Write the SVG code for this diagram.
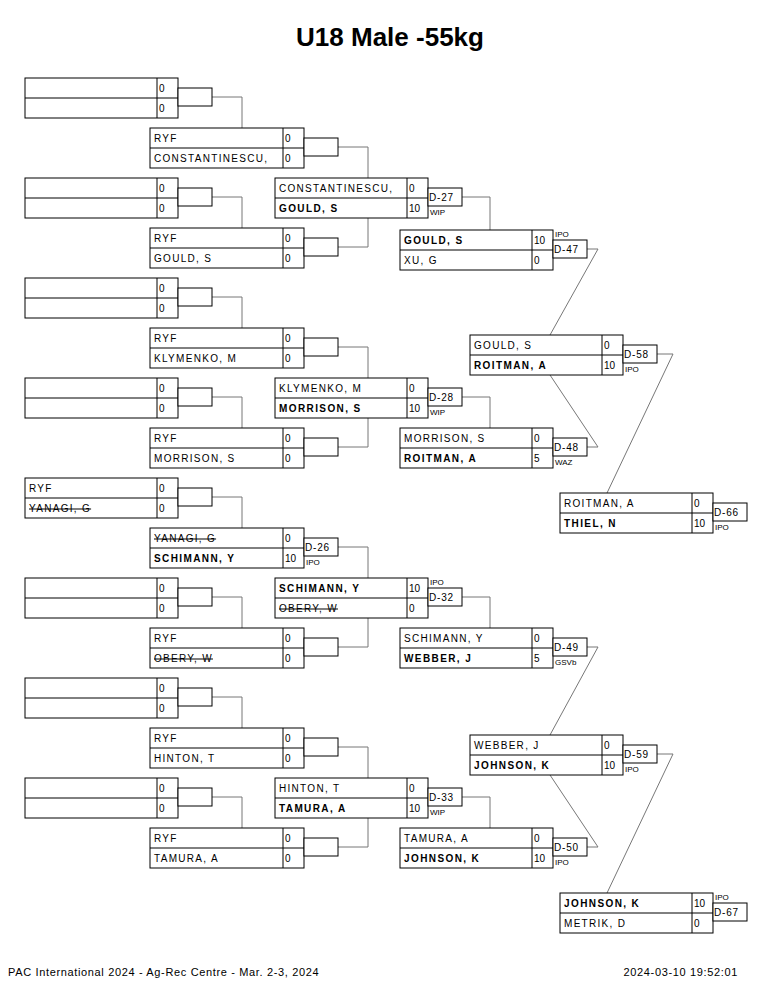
<svg xmlns="http://www.w3.org/2000/svg" width="765" height="990" viewBox="0 0 765 990">
<style>
.bx{fill:#fff;stroke:#000;stroke-width:1}
.ln{fill:none;stroke:#000;stroke-width:1}
.sb{fill:#fff;stroke:#000;stroke-width:1}
.cn{fill:none;stroke:#777;stroke-width:1}
.nm{font-family:"Liberation Sans",Arial,sans-serif;font-size:10px;letter-spacing:1.3px;fill:#000}
.nb{font-family:"Liberation Sans",Arial,sans-serif;font-size:10px;letter-spacing:1.4px;font-weight:bold;fill:#000}
.st{text-decoration:line-through}
.sc{font-family:"Liberation Sans",Arial,sans-serif;font-size:10px;fill:#000}
.mn{font-family:"Liberation Sans",Arial,sans-serif;font-size:10px;letter-spacing:0.8px;fill:#000}
.lb{font-family:"Liberation Sans",Arial,sans-serif;font-size:8px;fill:#000}
.tt{font-family:"Liberation Sans",Arial,sans-serif;font-size:26px;font-weight:bold;fill:#000}
.ft{font-family:"Liberation Sans",Arial,sans-serif;font-size:11px;letter-spacing:0.65px;fill:#000}
</style>
<rect width="765" height="990" fill="#fff"/>
<text class="tt" x="390" y="46" text-anchor="middle">U18 Male -55kg</text>

<g id="connectors">
<polyline class="cn" points="212,97 242,97 242,128"/>
<polyline class="cn" points="212,197 242,197 242,228"/>
<polyline class="cn" points="212,297 242,297 242,328"/>
<polyline class="cn" points="212,397 242,397 242,428"/>
<polyline class="cn" points="212,497 242,497 242,528"/>
<polyline class="cn" points="212,597 242,597 242,628"/>
<polyline class="cn" points="212,697 242,697 242,728"/>
<polyline class="cn" points="212,797 242,797 242,828"/>
<polyline class="cn" points="338,147 368,147 368,178"/>
<polyline class="cn" points="338,247 368,247 368,218"/>
<polyline class="cn" points="338,347 368,347 368,378"/>
<polyline class="cn" points="338,447 368,447 368,418"/>
<polyline class="cn" points="338,547 368,547 368,578"/>
<polyline class="cn" points="338,647 368,647 368,618"/>
<polyline class="cn" points="338,747 368,747 368,778"/>
<polyline class="cn" points="338,847 368,847 368,818"/>
<polyline class="cn" points="462,197 490,197 490,230"/>
<polyline class="cn" points="462,397 490,397 490,428"/>
<polyline class="cn" points="462,597 490,597 490,628"/>
<polyline class="cn" points="462,797 490,797 490,828"/>
<polyline class="cn" points="587,249 598,249 550,335"/>
<polyline class="cn" points="587,447 598,447 550,375"/>
<polyline class="cn" points="587,647 598,647 550,735"/>
<polyline class="cn" points="587,847 598,847 550,775"/>
<polyline class="cn" points="657,354 673,354 607,493"/>
<polyline class="cn" points="657,754 673,754 607,893"/>
</g>

<!-- Column 1 -->
<g id="r1m1"><rect class="bx" x="25" y="78" width="153" height="40"/><line class="ln" x1="25" y1="98" x2="178" y2="98"/><line class="ln" x1="157" y1="78" x2="157" y2="118"/><text class="sc" x="159" y="92">0</text><text class="sc" x="159" y="112">0</text><rect class="sb" x="178" y="88" width="34" height="18"/></g>
<g id="r1m2"><rect class="bx" x="25" y="178" width="153" height="40"/><line class="ln" x1="25" y1="198" x2="178" y2="198"/><line class="ln" x1="157" y1="178" x2="157" y2="218"/><text class="sc" x="159" y="192">0</text><text class="sc" x="159" y="212">0</text><rect class="sb" x="178" y="188" width="34" height="18"/></g>
<g id="r1m3"><rect class="bx" x="25" y="278" width="153" height="40"/><line class="ln" x1="25" y1="298" x2="178" y2="298"/><line class="ln" x1="157" y1="278" x2="157" y2="318"/><text class="sc" x="159" y="292">0</text><text class="sc" x="159" y="312">0</text><rect class="sb" x="178" y="288" width="34" height="18"/></g>
<g id="r1m4"><rect class="bx" x="25" y="378" width="153" height="40"/><line class="ln" x1="25" y1="398" x2="178" y2="398"/><line class="ln" x1="157" y1="378" x2="157" y2="418"/><text class="sc" x="159" y="392">0</text><text class="sc" x="159" y="412">0</text><rect class="sb" x="178" y="388" width="34" height="18"/></g>
<g id="r1m5"><rect class="bx" x="25" y="478" width="153" height="40"/><line class="ln" x1="25" y1="498" x2="178" y2="498"/><line class="ln" x1="157" y1="478" x2="157" y2="518"/><text class="nm" x="29" y="492">RYF</text><text class="nm st" x="29" y="512">YANAGI, G</text><text class="sc" x="159" y="492">0</text><text class="sc" x="159" y="512">0</text><rect class="sb" x="178" y="488" width="34" height="18"/></g>
<g id="r1m6"><rect class="bx" x="25" y="578" width="153" height="40"/><line class="ln" x1="25" y1="598" x2="178" y2="598"/><line class="ln" x1="157" y1="578" x2="157" y2="618"/><text class="sc" x="159" y="592">0</text><text class="sc" x="159" y="612">0</text><rect class="sb" x="178" y="588" width="34" height="18"/></g>
<g id="r1m7"><rect class="bx" x="25" y="678" width="153" height="40"/><line class="ln" x1="25" y1="698" x2="178" y2="698"/><line class="ln" x1="157" y1="678" x2="157" y2="718"/><text class="sc" x="159" y="692">0</text><text class="sc" x="159" y="712">0</text><rect class="sb" x="178" y="688" width="34" height="18"/></g>
<g id="r1m8"><rect class="bx" x="25" y="778" width="153" height="40"/><line class="ln" x1="25" y1="798" x2="178" y2="798"/><line class="ln" x1="157" y1="778" x2="157" y2="818"/><text class="sc" x="159" y="792">0</text><text class="sc" x="159" y="812">0</text><rect class="sb" x="178" y="788" width="34" height="18"/></g>

<!-- Column 2 -->
<g id="r2m1"><rect class="bx" x="150" y="128" width="154" height="40"/><line class="ln" x1="150" y1="148" x2="304" y2="148"/><line class="ln" x1="283" y1="128" x2="283" y2="168"/><text class="nm" x="154" y="142">RYF</text><text class="nm" x="154" y="162">CONSTANTINESCU,</text><text class="sc" x="285" y="142">0</text><text class="sc" x="285" y="162">0</text><rect class="sb" x="304" y="138" width="34" height="18"/></g>
<g id="r2m2"><rect class="bx" x="150" y="228" width="154" height="40"/><line class="ln" x1="150" y1="248" x2="304" y2="248"/><line class="ln" x1="283" y1="228" x2="283" y2="268"/><text class="nm" x="154" y="242">RYF</text><text class="nm" x="154" y="262">GOULD, S</text><text class="sc" x="285" y="242">0</text><text class="sc" x="285" y="262">0</text><rect class="sb" x="304" y="238" width="34" height="18"/></g>
<g id="r2m3"><rect class="bx" x="150" y="328" width="154" height="40"/><line class="ln" x1="150" y1="348" x2="304" y2="348"/><line class="ln" x1="283" y1="328" x2="283" y2="368"/><text class="nm" x="154" y="342">RYF</text><text class="nm" x="154" y="362">KLYMENKO, M</text><text class="sc" x="285" y="342">0</text><text class="sc" x="285" y="362">0</text><rect class="sb" x="304" y="338" width="34" height="18"/></g>
<g id="r2m4"><rect class="bx" x="150" y="428" width="154" height="40"/><line class="ln" x1="150" y1="448" x2="304" y2="448"/><line class="ln" x1="283" y1="428" x2="283" y2="468"/><text class="nm" x="154" y="442">RYF</text><text class="nm" x="154" y="462">MORRISON, S</text><text class="sc" x="285" y="442">0</text><text class="sc" x="285" y="462">0</text><rect class="sb" x="304" y="438" width="34" height="18"/></g>
<g id="r2m5"><rect class="bx" x="150" y="528" width="154" height="40"/><line class="ln" x1="150" y1="548" x2="304" y2="548"/><line class="ln" x1="283" y1="528" x2="283" y2="568"/><text class="nm st" x="154" y="542">YANAGI, G</text><text class="nb" x="154" y="562">SCHIMANN, Y</text><text class="sc" x="285" y="542">0</text><text class="sc" x="285" y="562">10</text><rect class="sb" x="304" y="538" width="34" height="18"/><text class="mn" x="305" y="551">D-26</text><text class="lb" x="306" y="565">IPO</text></g>
<g id="r2m6"><rect class="bx" x="150" y="628" width="154" height="40"/><line class="ln" x1="150" y1="648" x2="304" y2="648"/><line class="ln" x1="283" y1="628" x2="283" y2="668"/><text class="nm" x="154" y="642">RYF</text><text class="nm st" x="154" y="662">OBERY, W</text><text class="sc" x="285" y="642">0</text><text class="sc" x="285" y="662">0</text><rect class="sb" x="304" y="638" width="34" height="18"/></g>
<g id="r2m7"><rect class="bx" x="150" y="728" width="154" height="40"/><line class="ln" x1="150" y1="748" x2="304" y2="748"/><line class="ln" x1="283" y1="728" x2="283" y2="768"/><text class="nm" x="154" y="742">RYF</text><text class="nm" x="154" y="762">HINTON, T</text><text class="sc" x="285" y="742">0</text><text class="sc" x="285" y="762">0</text><rect class="sb" x="304" y="738" width="34" height="18"/></g>
<g id="r2m8"><rect class="bx" x="150" y="828" width="154" height="40"/><line class="ln" x1="150" y1="848" x2="304" y2="848"/><line class="ln" x1="283" y1="828" x2="283" y2="868"/><text class="nm" x="154" y="842">RYF</text><text class="nm" x="154" y="862">TAMURA, A</text><text class="sc" x="285" y="842">0</text><text class="sc" x="285" y="862">0</text><rect class="sb" x="304" y="838" width="34" height="18"/></g>

<!-- Column 3 -->
<g id="d27"><rect class="bx" x="275" y="178" width="153" height="40"/><line class="ln" x1="275" y1="198" x2="428" y2="198"/><line class="ln" x1="407" y1="178" x2="407" y2="218"/><text class="nm" x="279" y="192">CONSTANTINESCU,</text><text class="nb" x="279" y="212">GOULD, S</text><text class="sc" x="409" y="192">0</text><text class="sc" x="409" y="212">10</text><rect class="sb" x="428" y="188" width="34" height="18"/><text class="mn" x="429" y="201">D-27</text><text class="lb" x="430" y="215">WIP</text></g>
<g id="d28"><rect class="bx" x="275" y="378" width="153" height="40"/><line class="ln" x1="275" y1="398" x2="428" y2="398"/><line class="ln" x1="407" y1="378" x2="407" y2="418"/><text class="nm" x="279" y="392">KLYMENKO, M</text><text class="nb" x="279" y="412">MORRISON, S</text><text class="sc" x="409" y="392">0</text><text class="sc" x="409" y="412">10</text><rect class="sb" x="428" y="388" width="34" height="18"/><text class="mn" x="429" y="401">D-28</text><text class="lb" x="430" y="415">WIP</text></g>
<g id="d32"><rect class="bx" x="275" y="578" width="153" height="40"/><line class="ln" x1="275" y1="598" x2="428" y2="598"/><line class="ln" x1="407" y1="578" x2="407" y2="618"/><text class="nb" x="279" y="592">SCHIMANN, Y</text><text class="nm st" x="279" y="612">OBERY, W</text><text class="sc" x="409" y="592">10</text><text class="sc" x="409" y="612">0</text><rect class="sb" x="428" y="588" width="34" height="18"/><text class="mn" x="429" y="601">D-32</text><text class="lb" x="430" y="585">IPO</text></g>
<g id="d33"><rect class="bx" x="275" y="778" width="153" height="40"/><line class="ln" x1="275" y1="798" x2="428" y2="798"/><line class="ln" x1="407" y1="778" x2="407" y2="818"/><text class="nm" x="279" y="792">HINTON, T</text><text class="nb" x="279" y="812">TAMURA, A</text><text class="sc" x="409" y="792">0</text><text class="sc" x="409" y="812">10</text><rect class="sb" x="428" y="788" width="34" height="18"/><text class="mn" x="429" y="801">D-33</text><text class="lb" x="430" y="815">WIP</text></g>

<!-- Column 4 -->
<g id="d47"><rect class="bx" x="400" y="230" width="153" height="40"/><line class="ln" x1="400" y1="250" x2="553" y2="250"/><line class="ln" x1="532" y1="230" x2="532" y2="270"/><text class="nb" x="404" y="244">GOULD, S</text><text class="nm" x="404" y="264">XU, G</text><text class="sc" x="534" y="244">10</text><text class="sc" x="534" y="264">0</text><rect class="sb" x="553" y="240" width="34" height="18"/><text class="mn" x="554" y="253">D-47</text><text class="lb" x="555" y="237">IPO</text></g>
<g id="d48"><rect class="bx" x="400" y="428" width="153" height="40"/><line class="ln" x1="400" y1="448" x2="553" y2="448"/><line class="ln" x1="532" y1="428" x2="532" y2="468"/><text class="nm" x="404" y="442">MORRISON, S</text><text class="nb" x="404" y="462">ROITMAN, A</text><text class="sc" x="534" y="442">0</text><text class="sc" x="534" y="462">5</text><rect class="sb" x="553" y="438" width="34" height="18"/><text class="mn" x="554" y="451">D-48</text><text class="lb" x="555" y="465">WAZ</text></g>
<g id="d49"><rect class="bx" x="400" y="628" width="153" height="40"/><line class="ln" x1="400" y1="648" x2="553" y2="648"/><line class="ln" x1="532" y1="628" x2="532" y2="668"/><text class="nm" x="404" y="642">SCHIMANN, Y</text><text class="nb" x="404" y="662">WEBBER, J</text><text class="sc" x="534" y="642">0</text><text class="sc" x="534" y="662">5</text><rect class="sb" x="553" y="638" width="34" height="18"/><text class="mn" x="554" y="651">D-49</text><text class="lb" x="555" y="665">GSVb</text></g>
<g id="d50"><rect class="bx" x="400" y="828" width="153" height="40"/><line class="ln" x1="400" y1="848" x2="553" y2="848"/><line class="ln" x1="532" y1="828" x2="532" y2="868"/><text class="nm" x="404" y="842">TAMURA, A</text><text class="nb" x="404" y="862">JOHNSON, K</text><text class="sc" x="534" y="842">0</text><text class="sc" x="534" y="862">10</text><rect class="sb" x="553" y="838" width="34" height="18"/><text class="mn" x="554" y="851">D-50</text><text class="lb" x="555" y="865">IPO</text></g>

<!-- Column 5 -->
<g id="d58"><rect class="bx" x="470" y="335" width="153" height="40"/><line class="ln" x1="470" y1="355" x2="623" y2="355"/><line class="ln" x1="602" y1="335" x2="602" y2="375"/><text class="nm" x="474" y="349">GOULD, S</text><text class="nb" x="474" y="369">ROITMAN, A</text><text class="sc" x="604" y="349">0</text><text class="sc" x="604" y="369">10</text><rect class="sb" x="623" y="345" width="34" height="18"/><text class="mn" x="624" y="358">D-58</text><text class="lb" x="625" y="372">IPO</text></g>
<g id="d59"><rect class="bx" x="470" y="735" width="153" height="40"/><line class="ln" x1="470" y1="755" x2="623" y2="755"/><line class="ln" x1="602" y1="735" x2="602" y2="775"/><text class="nm" x="474" y="749">WEBBER, J</text><text class="nb" x="474" y="769">JOHNSON, K</text><text class="sc" x="604" y="749">0</text><text class="sc" x="604" y="769">10</text><rect class="sb" x="623" y="745" width="34" height="18"/><text class="mn" x="624" y="758">D-59</text><text class="lb" x="625" y="772">IPO</text></g>

<!-- Column 6 -->
<g id="d66"><rect class="bx" x="560" y="493" width="153" height="40"/><line class="ln" x1="560" y1="513" x2="713" y2="513"/><line class="ln" x1="692" y1="493" x2="692" y2="533"/><text class="nm" x="564" y="507">ROITMAN, A</text><text class="nb" x="564" y="527">THIEL, N</text><text class="sc" x="694" y="507">0</text><text class="sc" x="694" y="527">10</text><rect class="sb" x="713" y="503" width="34" height="18"/><text class="mn" x="714" y="516">D-66</text><text class="lb" x="715" y="530">IPO</text></g>
<g id="d67"><rect class="bx" x="560" y="893" width="153" height="40"/><line class="ln" x1="560" y1="913" x2="713" y2="913"/><line class="ln" x1="692" y1="893" x2="692" y2="933"/><text class="nb" x="564" y="907">JOHNSON, K</text><text class="nm" x="564" y="927">METRIK, D</text><text class="sc" x="694" y="907">10</text><text class="sc" x="694" y="927">0</text><rect class="sb" x="713" y="903" width="34" height="18"/><text class="mn" x="714" y="916">D-67</text><text class="lb" x="715" y="900">IPO</text></g>

<text class="ft" x="8" y="976">PAC International 2024 - Ag-Rec Centre - Mar. 2-3, 2024</text>
<text class="ft" x="738" y="976" text-anchor="end">2024-03-10 19:52:01</text>
</svg>
